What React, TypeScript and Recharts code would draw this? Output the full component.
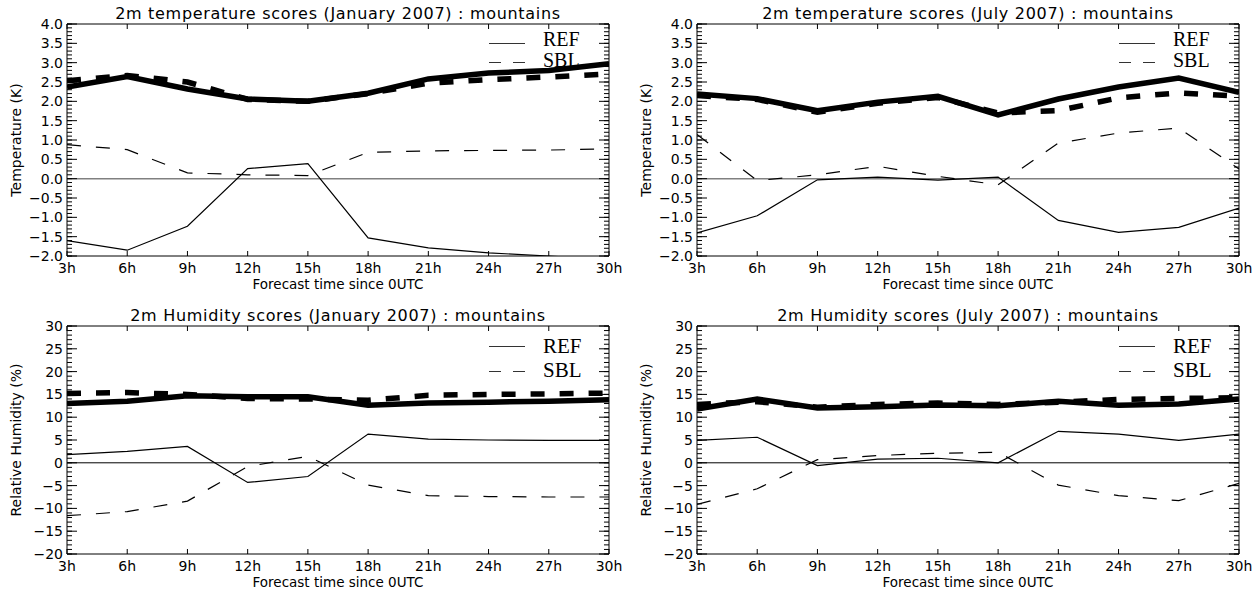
import React from 'react';
import { LineChart, Line, XAxis, YAxis, ReferenceLine } from 'recharts';

// forecast lead times (hours) and their tick labels
const HOURS = [3, 6, 9, 12, 15, 18, 21, 24, 27, 30];
const HOUR_LABELS = ['3h', '6h', '9h', '12h', '15h', '18h', '21h', '24h', '27h', '30h'];

const TEMP_TICKS = [-2, -1.5, -1, -0.5, 0, 0.5, 1, 1.5, 2, 2.5, 3, 3.5, 4];
const HUM_TICKS = [-20, -15, -10, -5, 0, 5, 10, 15, 20, 25, 30];

// 2m temperature, January 2007
const T_JAN_REF_RMSE = [2.37, 2.64, 2.32, 2.06, 2.0, 2.21, 2.58, 2.73, 2.8, 2.97];
const T_JAN_SBL_RMSE = [2.53, 2.67, 2.5, 2.05, 2.0, 2.2, 2.47, 2.56, 2.63, 2.71];
const T_JAN_REF_BIAS = [-1.6, -1.85, -1.23, 0.26, 0.39, -1.53, -1.79, -1.92, -2.0, -2.1];
const T_JAN_SBL_BIAS = [0.88, 0.75, 0.15, 0.1, 0.08, 0.68, 0.72, 0.73, 0.74, 0.77];

// 2m temperature, July 2007
const T_JUL_REF_RMSE = [2.19, 2.07, 1.76, 1.98, 2.13, 1.65, 2.06, 2.37, 2.6, 2.23];
const T_JUL_SBL_RMSE = [2.15, 2.05, 1.72, 1.95, 2.1, 1.7, 1.76, 2.09, 2.22, 2.13];
const T_JUL_REF_BIAS = [-1.4, -0.96, -0.03, 0.04, -0.04, 0.04, -1.08, -1.39, -1.26, -0.76];
const T_JUL_SBL_BIAS = [1.14, -0.05, 0.1, 0.32, 0.06, -0.16, 0.92, 1.18, 1.31, 0.25];

// 2m relative humidity, January 2007
const H_JAN_REF_RMSE = [13.0, 13.5, 14.7, 14.5, 14.5, 12.6, 13.1, 13.3, 13.5, 13.8];
const H_JAN_SBL_RMSE = [15.2, 15.4, 15.0, 14.1, 14.0, 13.7, 14.8, 15.0, 15.1, 15.3];
const H_JAN_REF_BIAS = [1.8, 2.5, 3.6, -4.3, -3.0, 6.3, 5.2, 5.0, 4.9, 4.9];
const H_JAN_SBL_BIAS = [-11.6, -10.7, -8.4, -0.8, 1.4, -4.9, -7.2, -7.4, -7.5, -7.5];

// 2m relative humidity, July 2007
const H_JUL_REF_RMSE = [11.8, 14.0, 12.0, 12.3, 12.7, 12.5, 13.5, 12.6, 12.9, 14.0];
const H_JUL_SBL_RMSE = [12.8, 13.4, 12.2, 12.8, 13.1, 12.8, 13.3, 13.9, 14.1, 14.3];
const H_JUL_REF_BIAS = [4.9, 5.6, -0.6, 0.8, 1.0, 0.0, 6.9, 6.3, 4.9, 6.3];
const H_JUL_SBL_BIAS = [-9.1, -5.7, 0.7, 1.6, 2.1, 2.3, -4.9, -7.2, -8.3, -4.5];

const FONT = '"DejaVu Sans", sans-serif';
const SERIF = '"Liberation Serif", "Times New Roman", serif';

const minorTicks = (lo: number, hi: number, step: number) => {
    const out: number[] = [];
    for (let v = lo; v <= hi + 1e-9; v += step) out.push(Math.round(v * 100) / 100);
    return out;
};

const hourLabel = (h: number) => HOUR_LABELS[HOURS.indexOf(h)] || '';
const fmtTemp = (v: number) => v.toFixed(1).replace('-', '\u2212');
const fmtHum = (v: number) => String(v).replace('-', '\u2212');
const blank = () => '';

// tick-only axes must not be 0 wide, or recharts skips drawing them
const THIN = 0.01;

interface PanelProps {
    title: string;
    yLabel: string;
    domain: [number, number];
    ticks: number[];
    minor: number[];
    fmt: (v: number) => string;
    refRmse: number[];
    sblRmse: number[];
    refBias: number[];
    sblBias: number[];
    left: number;
    top: number;
    height: number;
    marginTop: number;
    marginBottom: number;
    zeroStroke: string;
    zeroWidth: number;
    legend: { refY: number; sblY: number; refBase: number; sblBase: number; size: number };
}

const Panel: React.FC<PanelProps> = (p) => {
    const data = HOURS.map((h, i) => ({
        h,
        refRmse: p.refRmse[i],
        sblRmse: p.sblRmse[i],
        refBias: p.refBias[i],
        sblBias: p.sblBias[i],
    }));
    const tickStyle = { fill: '#000', fontSize: 14, fontFamily: FONT };
    const axisLine = { stroke: '#000', strokeWidth: 1 };
    const tickLine = { stroke: '#000', strokeWidth: 1 };
    const xCommon = { type: 'number' as const, dataKey: 'h', domain: [3, 30], ticks: HOURS, allowDataOverflow: true, interval: 0 as const };
    const yCommon = { type: 'number' as const, domain: p.domain, allowDataOverflow: true, interval: 0 as const };

    return (
        <div style={{ position: 'absolute', left: p.left, top: p.top, width: 630, height: p.height }}>
            <div style={{ position: 'absolute', left: 67, width: 542, top: p.marginTop - 18, textAlign: 'center', fontFamily: FONT, fontSize: 16, letterSpacing: 0.7, lineHeight: '16px', color: '#000', whiteSpace: 'nowrap' }}>
                {p.title}
            </div>
            <LineChart width={630} height={p.height} data={data} margin={{ top: p.marginTop, right: 21, bottom: p.marginBottom, left: 10 }}>
                <XAxis xAxisId="x" {...xCommon} height={36} tickFormatter={hourLabel} tickLine={false} tickSize={0} tickMargin={7}
                    axisLine={axisLine} tick={tickStyle}
                    label={{ value: 'Forecast time since 0UTC', position: 'insideTop', offset: 23, style: { fill: '#000', fontSize: 13.5, fontFamily: FONT } }} />
                <XAxis xAxisId="xb" {...xCommon} mirror height={THIN} tickFormatter={blank} tickSize={5} tickLine={tickLine} axisLine={false} />
                <XAxis xAxisId="xt" {...xCommon} orientation="top" mirror height={THIN} tickFormatter={blank} tickSize={5} tickLine={tickLine} axisLine={axisLine} />

                <YAxis yAxisId="y" {...yCommon} ticks={p.ticks} width={57} tickFormatter={p.fmt} tickLine={false} tickSize={0} tickMargin={4}
                    axisLine={axisLine} tick={tickStyle}
                    label={{ value: p.yLabel, angle: -90, position: 'insideLeft', offset: 6, style: { textAnchor: 'middle', fill: '#000', fontSize: 14, fontFamily: FONT } }} />
                <YAxis yAxisId="ylM" {...yCommon} ticks={p.ticks} mirror width={THIN} tickFormatter={blank} tickSize={10} tickLine={tickLine} axisLine={false} />
                <YAxis yAxisId="ylm" {...yCommon} ticks={p.minor} mirror width={THIN} tickFormatter={blank} tickSize={5} tickLine={tickLine} axisLine={false} />
                <YAxis yAxisId="yrM" {...yCommon} orientation="right" ticks={p.ticks} mirror width={THIN} tickFormatter={blank} tickSize={10} tickLine={tickLine} axisLine={axisLine} />
                <YAxis yAxisId="yrm" {...yCommon} orientation="right" ticks={p.minor} mirror width={THIN} tickFormatter={blank} tickSize={5} tickLine={tickLine} axisLine={false} />

                <ReferenceLine xAxisId="x" yAxisId="y" y={0} stroke={p.zeroStroke} strokeWidth={p.zeroWidth} />

                <Line xAxisId="x" yAxisId="y" type="linear" dataKey="refRmse" stroke="#000" strokeWidth={5.5} dot={false} isAnimationActive={false} />
                <Line xAxisId="x" yAxisId="y" type="linear" dataKey="sblRmse" stroke="#000" strokeWidth={5.5} strokeDasharray="14 15" dot={false} isAnimationActive={false} />
                <Line xAxisId="x" yAxisId="y" type="linear" dataKey="refBias" stroke="#000" strokeWidth={1.2} dot={false} isAnimationActive={false} />
                <Line xAxisId="x" yAxisId="y" type="linear" dataKey="sblBias" stroke="#000" strokeWidth={1.2} strokeDasharray="14 15" dot={false} isAnimationActive={false} />
            </LineChart>
            <svg width={130} height={90} style={{ position: 'absolute', left: 480, top: 0, overflow: 'visible' }}>
                <line x1={9} x2={45} y1={p.legend.refY} y2={p.legend.refY} stroke="#333" strokeWidth={1} />
                <line x1={9} x2={45} y1={p.legend.sblY} y2={p.legend.sblY} stroke="#333" strokeWidth={1} strokeDasharray="12 12" />
                <text x={63} y={p.legend.refBase} fontFamily={SERIF} fontSize={p.legend.size} fill="#000">REF</text>
                <text x={63} y={p.legend.sblBase} fontFamily={SERIF} fontSize={p.legend.size} fill="#000">SBL</text>
            </svg>
        </div>
    );
};

const tempMinor = minorTicks(-2, 4, 0.1);
const humMinor = minorTicks(-20, 30, 1);

const topLegend = { refY: 43.5, sblY: 62.5, refBase: 46, sblBase: 66.5, size: 20 };
const bottomLegend = { refY: 46.5, sblY: 71.5, refBase: 53, sblBase: 76.5, size: 21 };

const App: React.FC = () => {
    const top = { top: 0, height: 300, marginTop: 24, marginBottom: 8 };
    const bottom = { top: 300, height: 295, marginTop: 26, marginBottom: 5 };
    return (
        <div style={{ position: 'absolute', left: 0, top: 0, width: 1260, height: 595, background: '#fff', overflow: 'hidden' }}>
            <Panel title="2m temperature scores (January 2007) : mountains" yLabel="Temperature (K)"
                domain={[-2, 4]} ticks={TEMP_TICKS} minor={tempMinor} fmt={fmtTemp}
                refRmse={T_JAN_REF_RMSE} sblRmse={T_JAN_SBL_RMSE} refBias={T_JAN_REF_BIAS} sblBias={T_JAN_SBL_BIAS}
                left={0} {...top} zeroStroke="#808080" zeroWidth={1.5} legend={topLegend} />
            <Panel title="2m temperature scores (July 2007) : mountains" yLabel="Temperature (K)"
                domain={[-2, 4]} ticks={TEMP_TICKS} minor={tempMinor} fmt={fmtTemp}
                refRmse={T_JUL_REF_RMSE} sblRmse={T_JUL_SBL_RMSE} refBias={T_JUL_REF_BIAS} sblBias={T_JUL_SBL_BIAS}
                left={630} {...top} zeroStroke="#808080" zeroWidth={1.5} legend={topLegend} />
            <Panel title="2m Humidity scores (January 2007) : mountains" yLabel="Relative Humidity (%)"
                domain={[-20, 30]} ticks={HUM_TICKS} minor={humMinor} fmt={fmtHum}
                refRmse={H_JAN_REF_RMSE} sblRmse={H_JAN_SBL_RMSE} refBias={H_JAN_REF_BIAS} sblBias={H_JAN_SBL_BIAS}
                left={0} {...bottom} zeroStroke="#000" zeroWidth={1} legend={bottomLegend} />
            <Panel title="2m Humidity scores (July 2007) : mountains" yLabel="Relative Humidity (%)"
                domain={[-20, 30]} ticks={HUM_TICKS} minor={humMinor} fmt={fmtHum}
                refRmse={H_JUL_REF_RMSE} sblRmse={H_JUL_SBL_RMSE} refBias={H_JUL_REF_BIAS} sblBias={H_JUL_SBL_BIAS}
                left={630} {...bottom} zeroStroke="#000" zeroWidth={1} legend={bottomLegend} />
        </div>
    );
};

export default App;
